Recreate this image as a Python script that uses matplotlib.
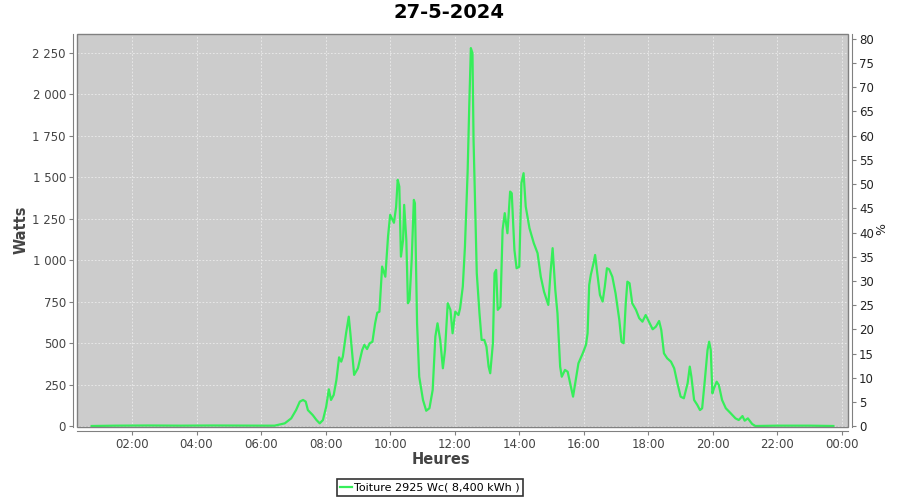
import matplotlib
matplotlib.use("Agg")
import matplotlib.pyplot as plt
from matplotlib.ticker import MultipleLocator, FuncFormatter
from matplotlib.patches import Rectangle

title = "27-5-2024"
series_name = "Toiture 2925 Wc( 8,400 kWh )"

# readings of the day (time of day, power in W)
times = [
    "00:45", "01:30", "02:30", "03:30", "04:30", "05:30", "06:00", "06:25", "06:44", "06:56",
    "07:05", "07:12", "07:18", "07:23", "07:27", "07:36", "07:43", "07:49", "07:55",
    "08:01", "08:06", "08:10", "08:15", "08:20", "08:25", "08:29", "08:32", "08:38", "08:43", "08:46", "08:53",
    "09:00", "09:08", "09:12", "09:17", "09:22", "09:27", "09:32", "09:36", "09:40", "09:45", "09:51", "09:56",
    "10:00", "10:07", "10:11", "10:14", "10:17", "10:20", "10:24", "10:26", "10:30", "10:33", "10:36", "10:40",
    "10:44", "10:46", "10:50", "10:54",
    "11:01", "11:07", "11:13", "11:19", "11:24", "11:28", "11:33", "11:38", "11:42", "11:47", "11:52", "11:56",
    "12:01", "12:07", "12:10", "12:15", "12:19", "12:24", "12:27", "12:30", "12:33", "12:35", "12:38", "12:41",
    "12:46", "12:50", "12:55", "12:59",
    "13:03", "13:06", "13:11", "13:14", "13:17", "13:20", "13:25", "13:29", "13:33", "13:38", "13:43", "13:46",
    "13:51", "13:55",
    "14:00", "14:04", "14:08", "14:12", "14:19", "14:27", "14:34", "14:40", "14:46", "14:54", "14:58",
    "15:02", "15:07", "15:11", "15:16", "15:19", "15:25", "15:30", "15:36", "15:40", "15:45", "15:50", "15:58",
    "16:04", "16:07", "16:10", "16:13", "16:18", "16:21", "16:25", "16:30", "16:35", "16:39", "16:43", "16:47",
    "16:53", "16:59",
    "17:06", "17:10", "17:14", "17:18", "17:21", "17:25", "17:30", "17:37", "17:43", "17:49", "17:55",
    "18:01", "18:08", "18:14", "18:20", "18:24", "18:29", "18:35", "18:42", "18:48", "18:54",
    "19:00", "19:06", "19:13", "19:17", "19:20", "19:25", "19:31", "19:36", "19:40", "19:45", "19:50", "19:53",
    "19:56", "19:59",
    "20:02", "20:07", "20:11", "20:17", "20:24", "20:33", "20:42", "20:48", "20:55", "20:59",
    "21:05", "21:13", "21:19", "22:00", "23:00", "23:44",
]
watts = [
    0, 2, 3, 2, 3, 2, 2, 2, 16, 46,
    96, 147, 157, 147, 96, 66, 36, 16, 36,
    116, 221, 157, 187, 277, 414, 388, 418, 559, 659, 559, 308,
    348, 458, 489, 464, 499, 508, 619, 683, 689, 961, 900, 1142,
    1273, 1225, 1320, 1484, 1443, 1021, 1122, 1333, 1122, 740, 760, 1001,
    1363, 1343, 619, 297,
    157, 92, 107, 217, 539, 619, 519, 348, 458, 740, 700, 559,
    689, 669, 710, 840, 1081, 1534, 1926, 2278, 2248, 1725, 1323, 921,
    680, 519, 519, 478,
    358, 318, 499, 921, 941, 700, 719, 1182, 1283, 1162, 1413, 1403,
    1061, 951,
    960, 1464, 1524, 1323, 1192, 1102, 1042, 900, 810, 730, 921,
    1072, 820, 680, 358, 297, 338, 327, 237, 177, 277, 378, 438,
    489, 559, 850, 911, 981, 1031, 921, 790, 750, 840, 951, 945,
    900, 800,
    639, 508, 499, 740, 870, 861, 740, 700, 650, 629, 669,
    629, 583, 599, 633, 579, 438, 408, 388, 348, 258,
    177, 167, 258, 358, 297, 157, 127, 96, 107, 277, 458, 508,
    458, 197,
    227, 267, 247, 157, 107, 77, 46, 36, 60, 32,
    46, 12, 0, 2, 2, 0,
]

hours = [int(t[:2]) + int(t[3:]) / 60 for t in times]

LINE = "#36ee5a"
GRAY = "#808080"
TXT = "#444444"

fig = plt.figure(figsize=(9, 5), dpi=100)
ax = fig.add_axes([77 / 900, 1 - 427 / 500, 771 / 900, 393 / 500])
ax.set_facecolor("#cccccc")

line, = ax.plot(hours, watts, color=LINE, lw=1.6, zorder=3)

ax.set_xlim(0.296, 24.186)
ax.set_ylim(-6, 2363)
ax.xaxis.set_major_locator(MultipleLocator(2))
ax.xaxis.set_major_formatter(FuncFormatter(lambda v, p: f"{int(round(v)) % 24:02d}:00"))
ax.yaxis.set_major_locator(MultipleLocator(250))
ax.yaxis.set_major_formatter(FuncFormatter(lambda v, p: f"{int(v):,}".replace(",", " ")))
ax.grid(True, color="#f2f2f2", ls=(0, (2.5, 2.5)), lw=0.5)
ax.set_axisbelow(True)

for s in ["top", "right"]:
    ax.spines[s].set_visible(False)
for s in ["left", "bottom"]:
    ax.spines[s].set_position(("outward", 3))
    ax.spines[s].set_color(GRAY)
ax.tick_params(length=3, color=GRAY, labelsize=8.5, labelcolor=TXT, pad=2)
ax.add_patch(Rectangle((0, 0), 1, 1, transform=ax.transAxes, fill=False,
                       edgecolor=GRAY, lw=1.0, clip_on=False, zorder=4))

# empty percentage axis on the right
ax2 = ax.twinx()
ax2.set_ylim(-0.12, 80.97)
ax2.yaxis.set_major_locator(MultipleLocator(5))
for s in ["top", "left", "bottom"]:
    ax2.spines[s].set_visible(False)
ax2.spines["right"].set_position(("outward", 3))
ax2.spines["right"].set_color(GRAY)
ax2.tick_params(length=3, color=GRAY, labelsize=8.5, labelcolor="#222222", pad=2)

fig.text(449 / 900, 1 - 13 / 500, title, ha="center", va="center",
         fontsize=14, fontweight="bold")
fig.text(21 / 900, 1 - 230 / 500, "Watts", rotation=90, ha="center", va="center",
         fontsize=10.5, fontweight="bold", color=TXT)
fig.text(441 / 900, 1 - 460 / 500, "Heures", ha="center", va="center",
         fontsize=10.5, fontweight="bold", color=TXT)
fig.text(882 / 900, 1 - 229 / 500, "%", rotation=90, ha="center", va="center",
         fontsize=9, color="#222222")

leg = fig.legend([line], [series_name], loc="center", bbox_to_anchor=(430 / 900, 1 - 487.5 / 500),
                 frameon=True, fancybox=False, edgecolor="black", fontsize=8,
                 handlelength=1.1, handletextpad=0.2, borderpad=0.3, borderaxespad=0)
leg.get_frame().set_linewidth(1.2)

fig.savefig("out.png", dpi=100)
